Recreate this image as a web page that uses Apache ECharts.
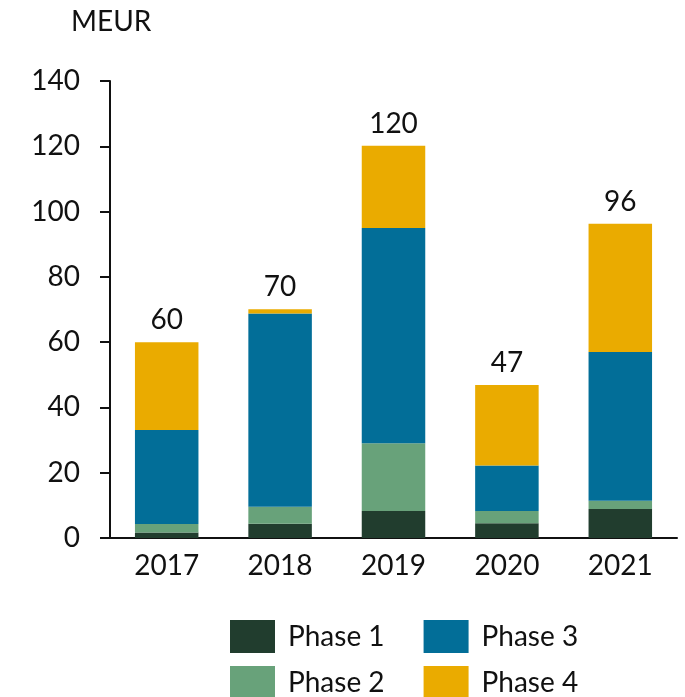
<!DOCTYPE html>
<html>
<head>
<meta charset="utf-8">
<script src="https://cdn.jsdelivr.net/npm/echarts@6/dist/echarts.min.js"></script>
<style>
  html, body { margin: 0; padding: 0; background: #fff; }
  #chart { width: 685px; height: 697px; }
</style>
</head>
<body>
<div id="chart"></div>
<script>
// years on the x axis
const years = ['2017', '2018', '2019', '2020', '2021'];
// stacked values per phase (MEUR)
const phase1 = [1.7, 4.4, 8.3, 4.5, 8.9];
const phase2 = [2.6, 5.2, 20.7, 3.8, 2.5];
const phase3 = [28.8, 59.2, 66.0, 13.9, 45.6];
const phase4 = [26.9, 1.3, 25.2, 24.7, 39.3];
// total labels shown above each bar
const totals = [60, 70, 120, 47, 96];

const FONT = 'Lato';
const chart = echarts.init(document.getElementById('chart'));

const mkSeries = (name, data, color, withTotal) => ({
  name, type: 'bar', stack: 'all', data,
  barCategoryGap: '44%',
  itemStyle: { color },
  label: withTotal ? {
    show: true, position: 'top', distance: 8,
    color: '#111', fontSize: 28, fontFamily: FONT,
    formatter: (p) => totals[p.dataIndex]
  } : { show: false }
});

const legendText = { fontSize: 28, color: '#111', fontFamily: FONT, padding: [0, 0, 0, 8] };

chart.setOption({
  backgroundColor: '#fff',
  animation: false,
  textStyle: { fontFamily: FONT },
  title: {
    text: 'MEUR', left: 66, top: 3,
    textStyle: { fontSize: 28, fontWeight: 'normal', color: '#111', fontFamily: FONT }
  },
  legend: [
    {
      data: ['Phase 1', 'Phase 3'], left: 225, top: 615,
      itemWidth: 45, itemHeight: 33, itemGap: 39, icon: 'rect',
      textStyle: legendText
    },
    {
      data: ['Phase 2', 'Phase 4'], left: 225, top: 661,
      itemWidth: 45, itemHeight: 33, itemGap: 39, icon: 'rect',
      textStyle: legendText
    }
  ],
  grid: { left: 110, right: 8, top: 81, bottom: 159, containLabel: false },
  xAxis: {
    type: 'category', data: years,
    axisLine: { lineStyle: { color: '#111', width: 2 } },
    axisTick: { show: false },
    axisLabel: { color: '#111', fontSize: 28, fontFamily: FONT, margin: 14 }
  },
  yAxis: {
    type: 'value', min: 0, max: 140, interval: 20,
    axisLine: { show: true, lineStyle: { color: '#111', width: 2 } },
    axisTick: { show: true, length: 10, lineStyle: { color: '#111', width: 2 } },
    splitLine: { show: false },
    axisLabel: { color: '#111', fontSize: 28, fontFamily: FONT, margin: 30 }
  },
  series: [
    mkSeries('Phase 1', phase1, '#213D2E'),
    mkSeries('Phase 2', phase2, '#68A27A'),
    mkSeries('Phase 3', phase3, '#026E98'),
    mkSeries('Phase 4', phase4, '#EAAB00', true)
  ]
});
</script>
</body>
</html>
